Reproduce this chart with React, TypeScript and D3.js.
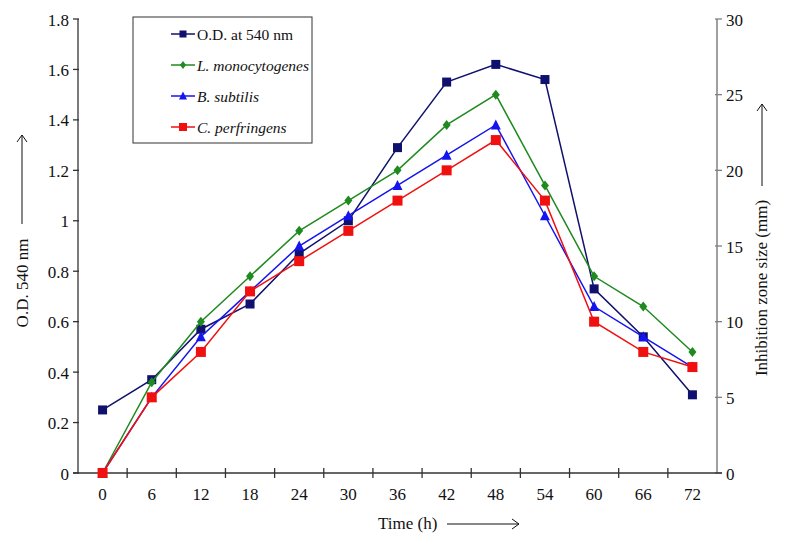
import React from "react";
import * as d3 from "d3";

const times = ["0", "6", "12", "18", "24", "30", "36", "42", "48", "54", "60", "66", "72"];
const odValues = [0.25, 0.37, 0.57, 0.67, 0.87, 1.0, 1.29, 1.55, 1.62, 1.56, 0.73, 0.54, 0.31];
const lMono = [0, 6, 10, 13, 16, 18, 20, 23, 25, 19, 13, 11, 8];
const bSub = [0, 5, 9, 12, 15, 17, 19, 21, 23, 17, 11, 9, 7];
const cPerf = [0, 5, 8, 12, 14, 16, 18, 20, 22, 18, 10, 8, 7];
const leftTicks = [0, 0.2, 0.4, 0.6, 0.8, 1, 1.2, 1.4, 1.6, 1.8];
const rightTicks = [0, 5, 10, 15, 20, 25, 30];

const W = 786, H = 544;
const L = 78, R = 717, T = 19, B = 473;
const FONT = "Liberation Serif, Times New Roman, DejaVu Serif, serif";

type Series = { name: string; italic: boolean; values: number[]; axis: "left" | "right"; color: string; marker: string; size: number };
const series: Series[] = [
  { name: "O.D. at 540 nm", italic: false, values: odValues, axis: "left", color: "#10106e", marker: "square", size: 9 },
  { name: "L. monocytogenes", italic: true, values: lMono, axis: "right", color: "#1f8a1f", marker: "diamond", size: 8 },
  { name: "B. subtilis", italic: true, values: bSub, axis: "right", color: "#1414f0", marker: "triangle", size: 9 },
  { name: "C. perfringens", italic: true, values: cPerf, axis: "right", color: "#f01010", marker: "square", size: 10 },
];

function Marker({ type, x, y, size, color }: { type: string; x: number; y: number; size: number; color: string }) {
  const h = size / 2;
  if (type === "square") return <rect x={x - h} y={y - h} width={size} height={size} fill={color} />;
  if (type === "diamond") return <path d={`M${x},${y - h - 1}L${x + h},${y}L${x},${y + h + 1}L${x - h},${y}Z`} fill={color} />;
  return <path d={`M${x},${y - h - 1}L${x + h + 0.5},${y + h}L${x - h - 0.5},${y + h}Z`} fill={color} />;
}

export default function App() {
  const x = d3.scaleBand<string>().domain(times).range([L, R]);
  const xc = (t: string) => (x(t) as number) + x.bandwidth() / 2;
  const yL = d3.scaleLinear().domain([0, 1.8]).range([B, T]);
  const yR = d3.scaleLinear().domain([0, 30]).range([B, T]);
  const line = (s: Series) =>
    d3.line<number>().x((_, i) => xc(times[i])).y((v) => (s.axis === "left" ? yL(v) : yR(v)))(s.values) as string;

  const boundaries = times.map((t) => x(t) as number).concat([R]);

  return (
    <svg width={W} height={H} fontFamily={FONT} style={{ position: "absolute", left: 0, top: 0 }}>
      <rect width={W} height={H} fill="#fff" />
      {/* left axis */}
      <line x1={L} x2={L} y1={T} y2={B} stroke="#333" strokeWidth={1.3} />
      {leftTicks.map((t) => (
        <g key={t}>
          <line x1={L - 5} x2={L + 1} y1={yL(t)} y2={yL(t)} stroke="#333" strokeWidth={1.3} />
          <text x={L - 9} y={yL(t) + 6.5} textAnchor="end" fontFamily={FONT} fontSize={17} fill="#111">{t === 0 || t === 1 ? String(t) : t.toFixed(1)}</text>
        </g>
      ))}
      {/* right axis */}
      <line x1={R} x2={R} y1={T} y2={B} stroke="#808080" strokeWidth={1.5} />
      {rightTicks.map((t) => (
        <g key={t}>
          <line x1={R - 2} x2={R + 5} y1={yR(t)} y2={yR(t)} stroke="#808080" strokeWidth={1.3} />
          <text x={R + 9} y={yR(t) + 6.5} textAnchor="start" fontFamily={FONT} fontSize={17} fill="#111">{t}</text>
        </g>
      ))}
      {/* x axis */}
      <line x1={L - 5} x2={R + 5} y1={B} y2={B} stroke="#333" strokeWidth={1.3} />
      {boundaries.slice(1, -1).map((b, i) => (
        <line key={i} x1={b} x2={b} y1={B - 5} y2={B + 5} stroke="#333" strokeWidth={1.3} />
      ))}
      {times.map((t) => (
        <text key={t} x={xc(t)} y={B + 27} textAnchor="middle" fontFamily={FONT} fontSize={17} fill="#111">{t}</text>
      ))}
      {/* titles */}
      <text x={378} y={529} fontFamily={FONT} fontSize={17} fill="#111">Time (h)</text>
      <line x1={447} x2={519} y1={524} y2={524} stroke="#111" strokeWidth={1} />
      <path d="M512,519L519,524L512,529" fill="none" stroke="#111" strokeWidth={1} />

      <text transform="translate(28,283) rotate(-90)" textAnchor="middle" fontFamily={FONT} fontSize={17} fill="#111">O.D. 540 nm</text>
      <line x1={22} x2={22} y1={224} y2={135} stroke="#111" strokeWidth={1} />
      <path d="M17,142L22,135L27,142" fill="none" stroke="#111" strokeWidth={1} />

      <text transform="translate(767,288) rotate(-90)" textAnchor="middle" fontFamily={FONT} fontSize={17} fill="#111">Inhibition zone size (mm)</text>
      <line x1={762} x2={762} y1={186} y2={104} stroke="#111" strokeWidth={1} />
      <path d="M757,111L762,104L767,111" fill="none" stroke="#111" strokeWidth={1} />

      {/* series */}
      {series.map((s) => (
        <g key={s.name}>
          <path d={line(s)} fill="none" stroke={s.color} strokeWidth={1.5} />
          {s.values.map((v, i) => (
            <Marker key={i} type={s.marker} x={xc(times[i])} y={s.axis === "left" ? yL(v) : yR(v)} size={s.size} color={s.color} />
          ))}
        </g>
      ))}

      {/* legend */}
      <rect x={133} y={17} width={179} height={126} fill="#fff" stroke="#333" strokeWidth={1} />
      {series.map((s, i) => {
        const ly = 34 + i * 31;
        return (
          <g key={s.name}>
            <line x1={171} x2={195} y1={ly} y2={ly} stroke={s.color} strokeWidth={1.5} />
            <Marker type={s.marker} x={183} y={ly} size={s.size - 2} color={s.color} />
            <text x={197} y={ly + 5.5} fontFamily={FONT} fontSize={15.5} fontStyle={s.italic ? "italic" : "normal"} fill="#111">{s.name}</text>
          </g>
        );
      })}
    </svg>
  );
}
